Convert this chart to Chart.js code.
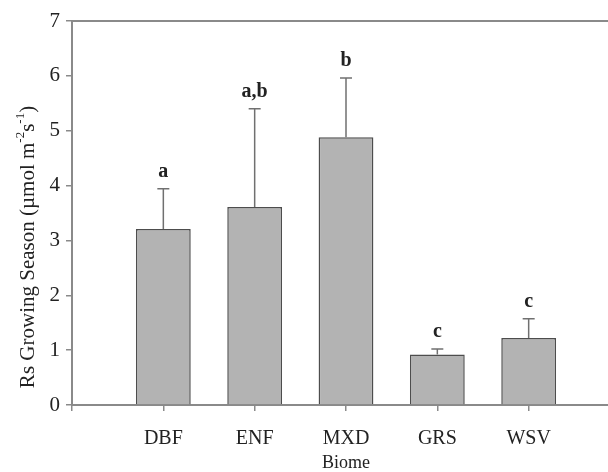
<!DOCTYPE html>
<html>
<head>
<meta charset="utf-8">
<script src="https://cdn.jsdelivr.net/npm/chart.js@4/dist/chart.umd.min.js"></script>
<style>
  html, body { margin: 0; padding: 0; background: #fff; overflow: hidden; }
  #wrap { width: 660px; height: 472px; }
</style>
</head>
<body>
<div id="wrap"><canvas id="biomeChart" width="660" height="472"></canvas></div>
<script>
var biomes = ['DBF', 'ENF', 'MXD', 'GRS', 'WSV'];
var meanRs = [3.21, 3.61, 4.88, 0.92, 1.22];
var errTop = [3.94, 5.40, 5.96, 1.02, 1.57];
var groupLetters = ['a', 'a,b', 'b', 'c', 'c'];
var yTicks = [0, 1, 2, 3, 4, 5, 6, 7];

var serif = "'Liberation Serif', 'Times New Roman', serif";
var axisGray = '#8a8a8a';

// upper error bars, group letters, top frame and y title
var extras = {
  id: 'extras',
  afterDatasetsDraw: function (chart) {
    var ctx = chart.ctx;
    var xs = chart.scales.x, ys = chart.scales.y;
    var area = chart.chartArea;
    ctx.save();
    ctx.strokeStyle = axisGray;
    ctx.lineWidth = 2;
    ctx.beginPath();
    ctx.moveTo(area.left, area.top);
    ctx.lineTo(area.right, area.top);
    ctx.stroke();

    ctx.strokeStyle = '#707070';
    ctx.lineWidth = 1.5;
    ctx.fillStyle = '#222';
    ctx.font = 'bold 20px ' + serif;
    ctx.textAlign = 'center';
    ctx.textBaseline = 'middle';
    for (var i = 0; i < biomes.length; i++) {
      var px = xs.getPixelForValue(i + 1);
      var p0 = ys.getPixelForValue(meanRs[i]);
      var p1 = ys.getPixelForValue(errTop[i]);
      ctx.beginPath();
      ctx.moveTo(px, p0);
      ctx.lineTo(px, p1);
      ctx.moveTo(px - 6, p1);
      ctx.lineTo(px + 6, p1);
      ctx.stroke();
      ctx.fillText(groupLetters[i], px, p1 - 17);
    }

    // rotated y title with superscripts
    var parts = [
      ['Rs Growing Season (\u00b5mol m', 21, 0],
      ['-2', 13, -7],
      ['s', 21, 0],
      ['-1', 13, -7],
      [')', 21, 0]
    ];
    var total = 0;
    parts.forEach(function (p) { ctx.font = p[1] + 'px ' + serif; p.push(ctx.measureText(p[0]).width); total += p[3]; });
    ctx.translate(28, 247);
    ctx.rotate(-Math.PI / 2);
    ctx.textAlign = 'left';
    ctx.textBaseline = 'middle';
    ctx.fillStyle = '#222';
    var cx = -total / 2;
    parts.forEach(function (p) {
      ctx.font = p[1] + 'px ' + serif;
      ctx.fillText(p[0], cx, p[2]);
      cx += p[3];
    });
    ctx.restore();
  }
};

new Chart(document.getElementById('biomeChart'), {
  type: 'bar',
  data: {
    datasets: [{
      data: biomes.map(function (b, i) { return { x: i + 1, y: meanRs[i] }; }),
      backgroundColor: '#b3b3b3',
      borderColor: '#4d4d4d',
      borderWidth: 1.5,
      categoryPercentage: 0.6,
      barPercentage: 1.0
    }]
  },
  options: {
    responsive: false,
    animation: false,
    layout: { padding: { top: 21, right: 40, left: 0, bottom: 0 } },
    plugins: {
      legend: { display: false },
      tooltip: { enabled: false }
    },
    scales: {
      x: {
        type: 'linear',
        offset: false,
        min: 0,
        max: 6,
        afterBuildTicks: function (s) {
          s.ticks = [0, 1, 2, 3, 4, 5, 6].map(function (v) { return { value: v }; });
        },
        afterFit: function (s) { s.height = 67; },
        ticks: {
          callback: function (v) { return biomes[v - 1] || ''; },
          font: { family: serif, size: 20 },
          color: '#222',
          padding: 16,
          maxRotation: 0,
          autoSkip: false
        },
        title: {
          display: true,
          text: 'Biome',
          font: { family: serif, size: 18, lineHeight: 1 },
          color: '#222',
          padding: { top: 2, bottom: 0 }
        },
        grid: { offset: false, drawOnChartArea: false, drawTicks: true, tickLength: 6, color: axisGray, lineWidth: 1.5 },
        border: { color: axisGray, width: 2 }
      },
      y: {
        min: 0,
        max: 7,
        afterBuildTicks: function (s) {
          s.ticks = yTicks.map(function (v) { return { value: v }; });
        },
        afterFit: function (s) { s.width = 72; },
        ticks: {
          font: { family: serif, size: 21 },
          color: '#222',
          padding: 6
        },
        grid: { drawOnChartArea: false, drawTicks: true, tickLength: 6, color: axisGray, lineWidth: 1.5 },
        border: { color: axisGray, width: 2 }
      }
    }
  },
  plugins: [extras]
});
</script>
</body>
</html>
